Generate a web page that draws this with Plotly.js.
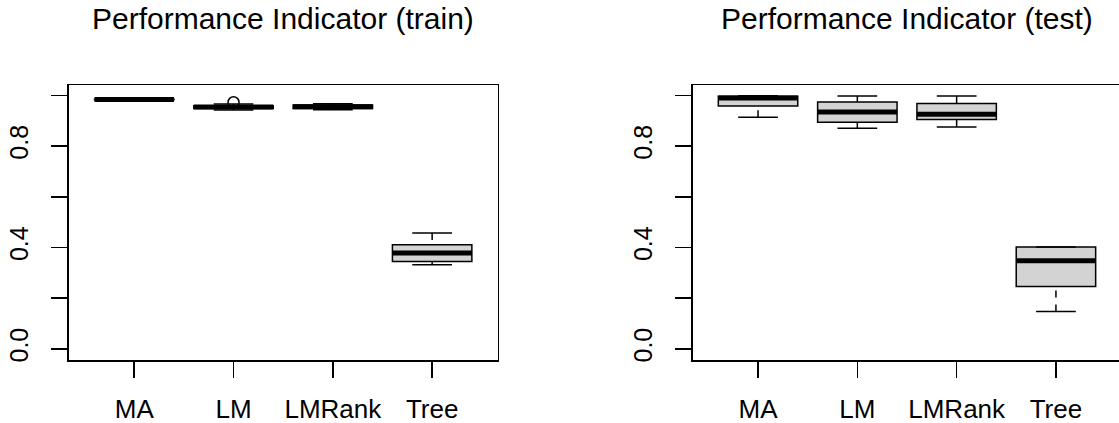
<!DOCTYPE html>
<html>
<head>
<meta charset="utf-8">
<script src="https://cdn.plot.ly/plotly-3.0.1.min.js"></script>
<style>html,body{margin:0;padding:0;background:#fff;}#chart{width:1119px;height:423px;}</style>
</head>
<body>
<div id="chart"></div>
<script>
// ---- data ----
const categories = ['MA', 'LM', 'LMRank', 'Tree'];
const yTickVals = [0, 0.2, 0.4, 0.6, 0.8, 1.0];
const yTickText = ['0.0', '', '0.4', '', '0.8', ''];

const trainLower  = [0.981, 0.942, 0.943, 0.332];
const trainQ1     = [0.983, 0.948, 0.948, 0.345];
const trainMedian = [0.984, 0.954, 0.955, 0.378];
const trainQ3     = [0.985, 0.959, 0.962, 0.411];
const trainUpper  = [0.987, 0.966, 0.967, 0.457];
const trainOutliers = [[], [0.973], [], []];

const testLower  = [0.914, 0.870, 0.875, 0.147];
const testQ1     = [0.958, 0.894, 0.905, 0.246];
const testMedian = [0.990, 0.934, 0.926, 0.348];
const testQ3     = [0.997, 0.974, 0.968, 0.402];
const testUpper  = [0.999, 0.998, 0.998, 0.402];
const testOutliers = [[], [], [], []];

const titleTrain = 'Performance Indicator (train)';
const titleTest = 'Performance Indicator (test)';

// ---- build ----
const FONT = 'Liberation Sans, Arial, Helvetica, sans-serif';
const LW = 1.5;
const BOXW = 0.8;

function panel(lower, q1, med, q3, upper, outl, xa, ya) {
  const traces = [];
  categories.forEach((c, i) => {
    traces.push({
      type: 'box', x: [i + 1], q1: [q1[i]], median: [med[i]], q3: [q3[i]],
      lowerfence: [q1[i]], upperfence: [q3[i]], width: BOXW, whiskerwidth: 0,
      fillcolor: '#d3d3d3', line: {color: '#000', width: LW}, boxpoints: false,
      xaxis: xa, yaxis: ya, hoverinfo: 'skip', showlegend: false
    });
  });
  const wx = [], wy = [], cx = [], cy = [], mx = [], my = [], ox = [], oy = [];
  categories.forEach((c, i) => {
    const p = i + 1;
    wx.push(p, p, null, p, p, null);
    wy.push(lower[i], q1[i], null, upper[i], q3[i], null);
    cx.push(p - BOXW / 4, p + BOXW / 4, null, p - BOXW / 4, p + BOXW / 4, null);
    cy.push(lower[i], lower[i], null, upper[i], upper[i], null);
    mx.push(p - BOXW / 2, p + BOXW / 2, null);
    my.push(med[i], med[i], null);
    outl[i].forEach(v => { ox.push(p); oy.push(v); });
  });
  const base = {type: 'scatter', xaxis: xa, yaxis: ya, hoverinfo: 'skip', showlegend: false, connectgaps: false};
  traces.push(Object.assign({}, base, {x: wx, y: wy, mode: 'lines', line: {color: '#000', width: LW, dash: '7px,7px'}}));
  traces.push(Object.assign({}, base, {x: cx, y: cy, mode: 'lines', line: {color: '#000', width: LW}}));
  traces.push(Object.assign({}, base, {x: mx, y: my, mode: 'lines', line: {color: '#000', width: 5}}));
  traces.push(Object.assign({}, base, {x: ox, y: oy, mode: 'markers', marker: {symbol: 'circle-open', size: 11, color: '#000', line: {color: '#000', width: LW}}}));
  return traces;
}

const data = [].concat(
  panel(trainLower, trainQ1, trainMedian, trainQ3, trainUpper, trainOutliers, 'x', 'y'),
  panel(testLower, testQ1, testMedian, testQ3, testUpper, testOutliers, 'x2', 'y2')
);

const W = 1119, H = 423;
const unit = 99.3;
const left1 = 68.7, left2 = 692.5;
const xRange1 = [0.34, 0.34 + (497.6 - left1) / unit];
const xRange2 = [0.34, 0.34 + (W - left2) / unit];
const yDomain = [1 - 360 / H, 1 - 85 / H];
const yRange = [-0.044, 1.041];

function xaxis(domain, range, mirror) {
  return {
    domain: domain, range: range, tickvals: [1, 2, 3, 4], ticktext: categories,
    ticks: 'outside', ticklen: 16, tickwidth: LW, tickcolor: '#000',
    showline: true, linecolor: '#000', linewidth: LW, mirror: mirror,
    showgrid: false, zeroline: false, fixedrange: true,
    tickfont: {family: FONT, size: 26, color: '#000'}, ticklabelstandoff: 9
  };
}
function yaxis(anchor, mirror) {
  return {
    anchor: anchor, domain: yDomain, range: yRange, tickvals: yTickVals, ticktext: yTickText,
    ticks: 'outside', ticklen: 16, tickwidth: LW, tickcolor: '#000', tickangle: -90,
    showline: true, linecolor: '#000', linewidth: LW, mirror: mirror,
    showgrid: false, zeroline: false, fixedrange: true,
    tickfont: {family: FONT, size: 25, color: '#000'}, ticklabelstandoff: 13
  };
}

const layout = {
  width: W, height: H,
  margin: {l: 0, r: 0, t: 0, b: 0},
  paper_bgcolor: '#fff', plot_bgcolor: '#fff',
  showlegend: false, boxmode: 'overlay',
  xaxis: Object.assign(xaxis([left1 / W, 497.6 / W], xRange1, true), {anchor: 'y'}),
  yaxis: yaxis('x', true),
  xaxis2: Object.assign(xaxis([left2 / W, 1], xRange2, true), {anchor: 'y2'}),
  yaxis2: yaxis('x2', false),
  annotations: [
    {text: titleTrain, xref: 'paper', yref: 'paper', x: (left1 + 497.6) / 2 / W, y: 1 - 19 / H,
     xanchor: 'center', yanchor: 'middle', showarrow: false, font: {family: FONT, size: 30, color: '#000'}},
    {text: titleTest, xref: 'paper', yref: 'paper', x: (left2 + left2 + 4.32 * unit) / 2 / W, y: 1 - 19 / H,
     xanchor: 'center', yanchor: 'middle', showarrow: false, font: {family: FONT, size: 30, color: '#000'}}
  ]
};

Plotly.newPlot('chart', data, layout, {displayModeBar: false, staticPlot: true});
</script>
</body>
</html>
